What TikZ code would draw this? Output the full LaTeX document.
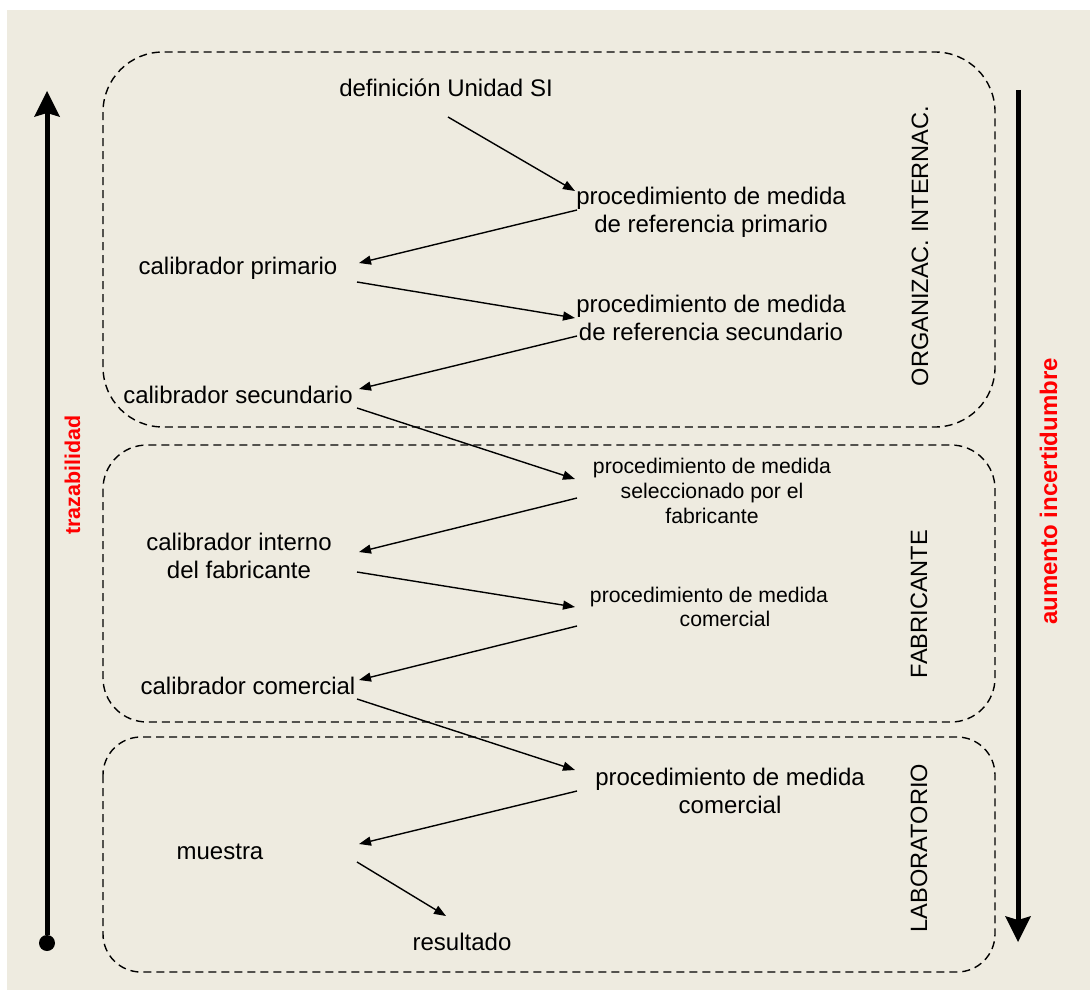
\documentclass[tikz,border=0pt]{standalone}
\usepackage{fontspec}
\setmainfont{Liberation Sans}
\usetikzlibrary{arrows.meta,calc}

\definecolor{bgbeige}{RGB}{238,235,224}

\tikzset{
	txt/.style={inner sep=0pt, align=center, font=\fontsize{12}{14}\selectfont},
	txtsmall/.style={txt, font=\fontsize{10.6}{12.3}\selectfont},
	zone/.style={draw, dash pattern=on 4pt off 2.5pt, line width=0.7pt},
	zonelabel/.style={inner sep=0pt, rotate=90, font=\fontsize{11.8}{14}\selectfont},
	redlabel/.style={inner sep=0pt, rotate=90, text=red, font=\bfseries\fontsize{12}{14}\selectfont},
	conn/.style={-{Triangle[length=6pt,width=4.5pt]}, line width=0.7pt},
	bigarrow/.style={line width=2.5pt, -{Stealth[length=13pt,width=13pt,inset=2pt,line width=0pt]}},
}

\begin{document}
\begin{tikzpicture}[x=0.5pt, y=-0.5pt]
		\useasboundingbox (0,0) rectangle (1090,990);
		\fill [white] (0,0) rectangle (1090,990);
		\fill [bgbeige] (7,10) rectangle (1090,990);

		% zonas
		\draw [zone, rounded corners=30pt] (103,52) rectangle (995,427);
		\draw [zone, rounded corners=22pt] (103,445) rectangle (995,722);
		\draw [zone, rounded corners=19pt] (103,737) rectangle (995,972);
		\node [zonelabel] (lblorg) at (920,246) {ORGANIZAC. INTERNAC.};
		\node [zonelabel] (lblfab) at (919,604) {FABRICANTE};
		\node [zonelabel] (lbllab) at (919,848) {LABORATORIO};

		% columnas de las flechas
		\coordinate (Lin) at (359,0);
		\coordinate (Lout) at (357,0);
		\coordinate (Rin) at (575,0);
		\coordinate (Rout) at (577,0);

		\node [txt] (defsi) at (446,88) {definición Unidad SI};
		\node [txt] (proc1) at (711,212) {procedimiento de medida\\de referencia primario};
		\node [txt] (calprim) at (238,268) {calibrador primario};
		\node [txt] (proc2) at (711,318) {procedimiento de medida\\de referencia secundario};
		\node [txt] (calsec) at (238,395) {calibrador secundario};
		\node [txtsmall] (proc3) at (712,491) {procedimiento de medida\\seleccionado por el\\fabricante};
		\node [txt] (calint) at (239,556) {calibrador interno\\del fabricante};
		\node [txtsmall] (proc4) at (709,607) {procedimiento de medida\\\hspace*{16pt}comercial};
		\node [txt] (calcom) at (248,686) {calibrador comercial};
		\node [txt] (proc5) at (730,791) {procedimiento de medida\\comercial};
		\node [txt] (muestra) at (220,852) {muestra};
		\node [txt] (result) at (462,942) {resultado};

		\draw [conn] ($(defsi)+(2,29)$) -- ($(proc1 -| Rin)+(0,-21)$);
		\draw [conn] ($(proc1 -| Rout)+(0,-2)$) -- ($(calprim -| Lin)+(0,-5)$);
		\draw [conn] ($(calprim -| Lout)+(0,14)$) -- (proc2 -| Rin);
		\draw [conn] ($(proc2 -| Rout)+(0,18)$) -- ($(calsec -| Lin)+(0,-6)$);
		\draw [conn] ($(calsec -| Lout)+(0,13)$) -- ($(proc3 -| Rin)+(0,-12)$);
		\draw [conn] ($(proc3 -| Rout)+(0,7)$) -- ($(calint -| Lin)+(0,-4)$);
		\draw [conn] ($(calint -| Lout)+(0,16)$) -- (proc4 -| Rin);
		\draw [conn] ($(proc4 -| Rout)+(0,19)$) -- ($(calcom -| Lin)+(0,-6)$);
		\draw [conn] ($(calcom -| Lout)+(0,13)$) -- ($(proc5 -| Rin)+(0,-21)$);
		\draw [conn] (proc5 -| Rout) -- ($(muestra -| Lin)+(0,-8)$);
		\draw [conn] ($(muestra -| Lout)+(0,10)$) -- ($(result)+(-16,-26)$);

		% flechas laterales
		\coordinate (trzbot) at (47,951);
		\coordinate (trztop) at (47,91);
		\draw [bigarrow, {Circle[length=8pt,line width=0pt]}-{Stealth[length=13pt,width=13pt,inset=2pt,line width=0pt]}] (trzbot) -- (trztop);
		\node [redlabel, font=\bfseries\fontsize{10.7}{13}\selectfont] (trz) at (72.5,475) {trazabilidad};

		\coordinate (aumtop) at (1018,90);
		\coordinate (aumbot) at (1018,942);
		\draw [bigarrow] (aumtop) -- (aumbot);
		\node [redlabel] (aum) at (1048.5,491.5) {aumento incertidumbre};
	\end{tikzpicture}
\end{document}
